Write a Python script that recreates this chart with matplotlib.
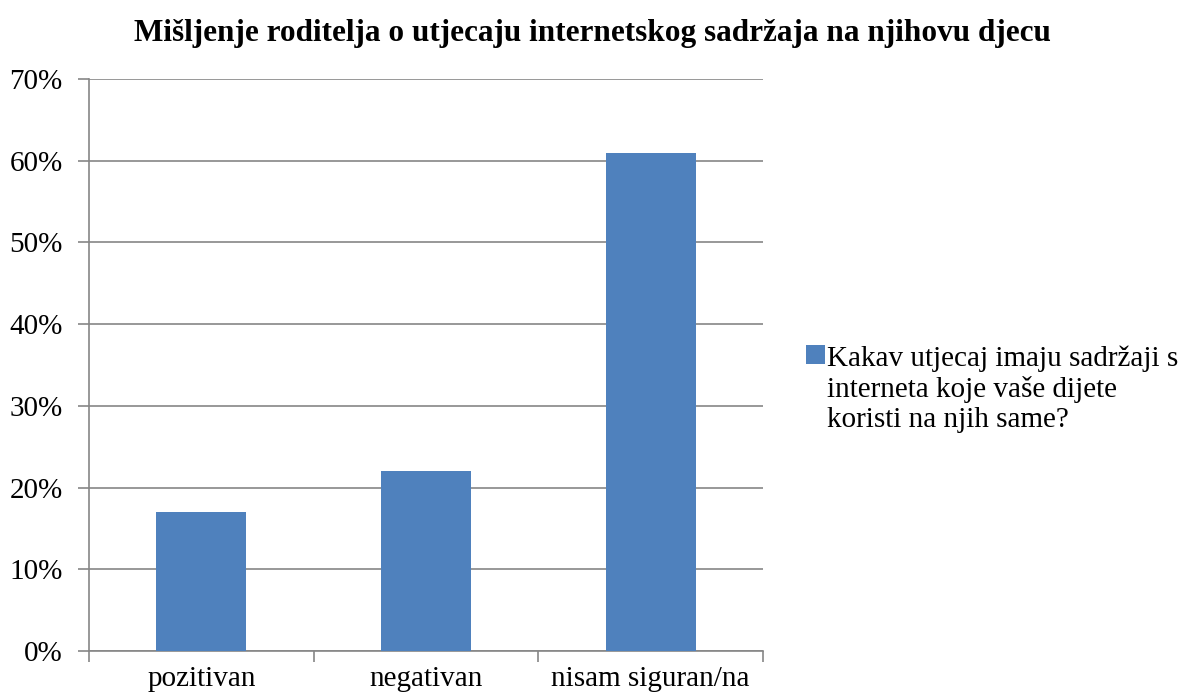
"""
Bar chart: parents' opinion on the influence of internet content
"""

import matplotlib
matplotlib.use('agg')
import matplotlib.pyplot as plt
from matplotlib.ticker import FuncFormatter

categories = ['pozitivan', 'negativan', 'nisam siguran/na']
values = [17, 22, 61]
series_label = 'Kakav utjecaj imaju sadržaji s\ninterneta koje vaše dijete\nkoristi na njih same?'
title = 'Mišljenje roditelja o utjecaju internetskog sadržaja na njihovu djecu'

plt.rcParams['font.family'] = ['Liberation Serif', 'DejaVu Serif']

grid_color = '#868686'
bar_color = '#4F81BD'

figure = plt.figure(figsize=(11.84, 6.98), dpi=100)
axes = figure.add_axes([89 / 1184, 1 - 651 / 698, (763 - 89) / 1184, (651 - 79) / 698])

positions = range(len(categories))
bars = axes.bar(positions, values, width=0.4, color=bar_color, label=series_label, zorder=3)

axes.set_xlim(-0.5, len(categories) - 0.5)
axes.set_ylim(0, 70)
axes.set_yticks(range(0, 71, 10))
axes.yaxis.set_major_formatter(FuncFormatter(lambda v, p: f'{v:.0f}%'))
axes.set_xticks([p for p in positions])
axes.set_xticklabels(categories)
# ticks between the categories, like the office chart
axes.set_xticks([p - 0.5 for p in range(len(categories) + 1)], minor=True)
axes.tick_params(axis='x', which='major', length=0, labelsize=21, pad=11)
axes.tick_params(axis='x', which='minor', length=8, width=1.2, color=grid_color, direction='out')
axes.tick_params(axis='y', length=8, width=1.2, color=grid_color, labelsize=21, pad=11)

axes.grid(axis='y', color=grid_color, linewidth=1.2, zorder=0)
for side in ['top', 'right']:
    axes.spines[side].set_visible(False)
for side in ['left', 'bottom']:
    axes.spines[side].set_color(grid_color)
    axes.spines[side].set_linewidth(1.2)

figure.suptitle(title, fontsize=22.5, fontweight='bold', x=0.5, y=1 - 33 / 698, va='center')

legend = figure.legend(handles=[bars], labels=[series_label], loc='upper left',
                       bbox_to_anchor=(806 / 1184, 1 - 345 / 698), frameon=False,
                       fontsize=21, handlelength=0.65, handleheight=0.65, handletextpad=0.07,
                       borderaxespad=0, borderpad=0, labelspacing=0)
# put the square next to the first line of the label, not the middle
for column in legend._legend_handle_box.get_children():
    for entry in column.get_children():
        entry.align = 'top'

figure.savefig('out.png', dpi=100)
